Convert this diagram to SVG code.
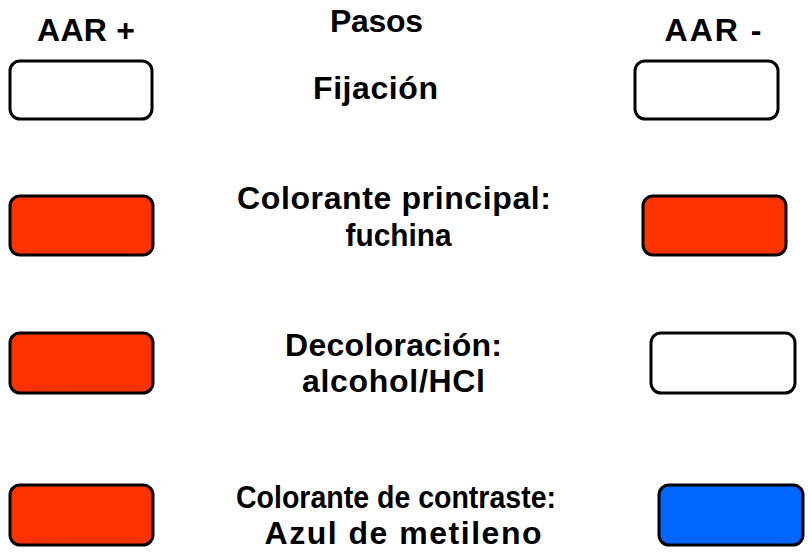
<svg xmlns="http://www.w3.org/2000/svg" width="808" height="556" viewBox="0 0 808 556">
<style>
.t{font-family:"Liberation Sans",Arial,sans-serif;font-weight:bold;font-size:32px;fill:#000;text-anchor:middle}
.b{stroke:#000;stroke-width:3;rx:10;ry:10}
.w{fill:#fff}
.r{fill:#ff3300}
.u{fill:#0066ff}
</style>
<rect width="808" height="556" fill="#fff"/>
<g id="headers">
<text class="t" x="86" y="41" textLength="98">AAR +</text>
<text class="t" x="376.5" y="32" textLength="93">Pasos</text>
<text class="t" x="713" y="41" textLength="97">AAR -</text>
</g>
<g id="step1">
<rect class="b w" x="10" y="61" width="142" height="58"/>
<text class="t" x="375.5" y="99" textLength="125">Fijación</text>
<rect class="b w" x="635" y="61" width="143" height="58"/>
</g>
<g id="step2">
<rect class="b r" x="10" y="196" width="143" height="59"/>
<text class="t" x="394" y="209" textLength="314">Colorante principal:</text>
<text class="t" x="398.5" y="246" textLength="106" lengthAdjust="spacingAndGlyphs">fuchina</text>
<rect class="b r" x="643" y="196" width="143" height="59"/>
</g>
<g id="step3">
<rect class="b r" x="10" y="333" width="143" height="60"/>
<text class="t" x="393.5" y="356" textLength="217">Decoloración:</text>
<text class="t" x="393.5" y="392" textLength="183">alcohol/HCl</text>
<rect class="b w" x="651" y="333" width="144" height="60"/>
</g>
<g id="step4">
<rect class="b r" x="10" y="485" width="143" height="60"/>
<text class="t" x="396" y="508" textLength="320" lengthAdjust="spacingAndGlyphs">Colorante de contraste:</text>
<text class="t" x="403" y="544" textLength="277">Azul de metileno</text>
<rect class="b u" x="659" y="485" width="144" height="60"/>
</g>
<g id="connectors"></g>
</svg>
